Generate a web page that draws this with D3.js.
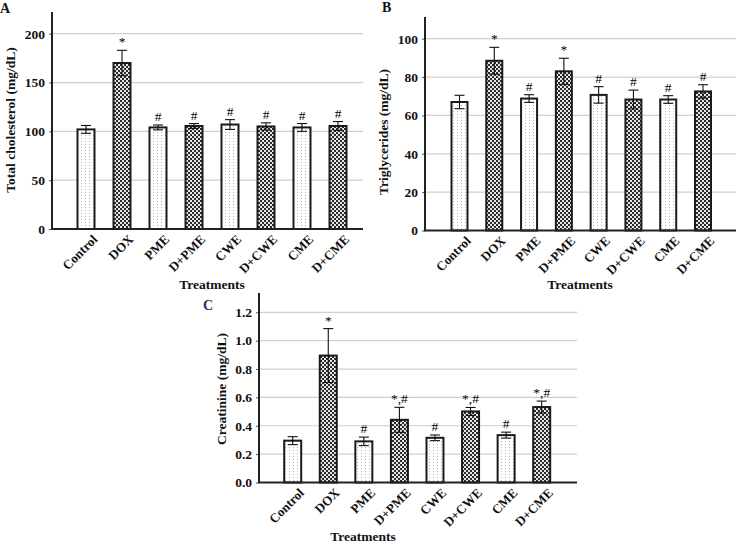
<!DOCTYPE html>
<html><head><meta charset="utf-8">
<script src="https://cdn.jsdelivr.net/npm/d3@7"></script>
<style>body{margin:0;background:#fff}svg{display:block}</style>
</head><body>
<svg id="chart" width="737" height="543"></svg>
<script>
const categories = ["Control","DOX","PME","D+PME","CWE","D+CWE","CME","D+CME"];
const darkBars = [false,true,false,true,false,true,false,true];

const cholesterolMean = [102,170,104,105.5,107,105,104,105.5];
const cholesterolErr  = [4,13,2.5,2.5,5,3.7,4,4.5];
const cholesterolSig  = ["","*","#","#","#","#","#","#"];
const cholesterolTicks = [0,50,100,150,200];

const triglycMean = [67,88.5,68.8,83,70.7,68.3,68.3,72.5];
const triglycErr  = [3.5,7,2,6.8,4.3,4.9,2,3.5];
const triglycSig  = ["","*","#","*","#","#","#","#"];
const triglycTicks = [0,20,40,60,80,100];

const creatMean = [0.295,0.895,0.29,0.442,0.315,0.501,0.334,0.532];
const creatErr  = [0.028,0.19,0.03,0.088,0.02,0.028,0.021,0.042];
const creatSig  = ["","*","#","*,#","#","*,#","#","*,#"];
const creatTicks = [0,0.2,0.4,0.6,0.8,1.0,1.2];

const svg = d3.select("#chart");
const serif = "'Liberation Serif','Times New Roman',serif";

// patterns
const defs = svg.append("defs");
const pl = defs.append("pattern").attr("id","light").attr("patternUnits","userSpaceOnUse")
  .attr("width",4).attr("height",3);
pl.append("rect").attr("width",4).attr("height",3).attr("fill","#fff");
pl.append("rect").attr("x",1).attr("y",0).attr("width",1).attr("height",1).attr("fill","#b8b8b8");
const pd = defs.append("pattern").attr("id","dark").attr("patternUnits","userSpaceOnUse")
  .attr("width",4).attr("height",4);
pd.append("rect").attr("width",4).attr("height",4).attr("fill","#e6e6e6");
pd.append("rect").attr("x",0).attr("y",0).attr("width",2).attr("height",2).attr("fill","#2a2a2a");
pd.append("rect").attr("x",2).attr("y",2).attr("width",2).attr("height",2).attr("fill","#2a2a2a");

function panel(cfg){
  const g = svg.append("g");
  const y = d3.scaleLinear().domain([0, cfg.refVal]).range([cfg.y0, cfg.yRef]);
  const x = d3.scalePoint().domain(categories).range([cfg.c0, cfg.c1]);
  const yTop = cfg.yTop;

  // gridlines
  g.append("g").selectAll("line").data(cfg.ticks.filter(t=>t>0)).join("line")
    .attr("x1",cfg.left).attr("x2",cfg.right)
    .attr("y1",d=>y(d)).attr("y2",d=>y(d))
    .attr("stroke","#cfcfcf").attr("stroke-width",1.2);

  // y axis via d3.axisLeft
  const ax = g.append("g").attr("transform",`translate(${cfg.left},0)`)
    .call(d3.axisLeft(y).tickValues(cfg.ticks).tickSize(3).tickPadding(4).tickFormat(cfg.fmt));
  ax.select(".domain").remove();
  ax.selectAll(".tick line").attr("stroke","#555");
  ax.selectAll("text").attr("font-family",serif).attr("font-weight","bold")
    .attr("font-size",13.5).attr("fill","#111");

  // bars
  const bw = cfg.bw;
  g.append("g").selectAll("rect").data(cfg.mean).join("rect")
    .attr("x",(d,i)=>x(categories[i])-bw/2).attr("width",bw)
    .attr("y",d=>y(d)).attr("height",d=>cfg.y0-y(d))
    .attr("fill",(d,i)=>darkBars[i]?"url(#dark)":"url(#light)")
    .attr("stroke","#1a1a1a").attr("stroke-width",2);

  // error bars
  const eg = g.append("g").attr("stroke","#111").attr("stroke-width",1.1);
  cfg.mean.forEach((m,i)=>{
    const cx = x(categories[i]), e = cfg.err[i];
    eg.append("line").attr("x1",cx).attr("x2",cx).attr("y1",y(m+e)).attr("y2",y(m-e));
    eg.append("line").attr("x1",cx-5).attr("x2",cx+5).attr("y1",y(m+e)).attr("y2",y(m+e));
    eg.append("line").attr("x1",cx-5).attr("x2",cx+5).attr("y1",y(m-e)).attr("y2",y(m-e));
  });

  // significance marks
  g.append("g").selectAll("text").data(cfg.sig).join("text")
    .attr("x",(d,i)=>x(categories[i])).attr("y",(d,i)=>y(cfg.mean[i]+cfg.err[i])-4)
    .attr("text-anchor","middle").attr("font-family",serif).attr("font-size",13.5)
    .attr("fill","#000").text(d=>d);

  // axes lines
  g.append("line").attr("x1",cfg.left).attr("x2",cfg.left).attr("y1",yTop).attr("y2",cfg.y0)
    .attr("stroke","#222").attr("stroke-width",2);
  g.append("line").attr("x1",cfg.left-1).attr("x2",cfg.right).attr("y1",cfg.y0).attr("y2",cfg.y0)
    .attr("stroke","#222").attr("stroke-width",2);

  // x tick labels
  g.append("g").selectAll("text").data(categories).join("text")
    .attr("transform",d=>`translate(${x(d)+9},${cfg.y0+8}) rotate(-45)`)
    .attr("text-anchor","end").attr("dy","0.35em")
    .attr("font-family",serif).attr("font-weight","bold").attr("font-size",13)
    .attr("fill","#111").text(d=>d);

  // axis titles
  g.append("text").attr("x",cfg.xtX).attr("y",cfg.xtY).attr("text-anchor","middle")
    .attr("font-family",serif).attr("font-weight","bold").attr("font-size",13.5)
    .attr("fill","#111").text("Treatments");
  g.append("text").attr("transform",`translate(${cfg.ytX},${cfg.ytY}) rotate(-90)`)
    .attr("text-anchor","middle").attr("font-family",serif).attr("font-weight","bold")
    .attr("font-size",13.5).attr("fill","#111").text(cfg.ylabel);

  // panel letter
  g.append("text").attr("x",cfg.lx).attr("y",cfg.ly).attr("font-family",serif)
    .attr("font-weight","bold").attr("font-size",14).attr("fill",cfg.lcol).text(cfg.letter);
}

panel({mean:cholesterolMean, err:cholesterolErr, sig:cholesterolSig, ticks:cholesterolTicks,
  fmt:d3.format("d"), refVal:200, y0:229, yRef:33.7, yTop:12, left:52, right:363,
  c0:86, c1:338, bw:17, xtX:212, xtY:289, ytX:15, ytY:120,
  ylabel:"Total cholesterol (mg/dL)", letter:"A", lx:0, ly:13, lcol:"#111"});

panel({mean:triglycMean, err:triglycErr, sig:triglycSig, ticks:triglycTicks,
  fmt:d3.format("d"), refVal:100, y0:230.5, yRef:38.7, yTop:17, left:425, right:736,
  c0:459.5, c1:703, bw:16, xtX:580, xtY:289, ytX:388, ytY:132,
  ylabel:"Triglycerides (mg/dL)", letter:"B", lx:382, ly:12, lcol:"#111"});

panel({mean:creatMean, err:creatErr, sig:creatSig, ticks:creatTicks,
  fmt:d3.format(".1f"), refVal:1.2, y0:482.5, yRef:312.3, yTop:293, left:259, right:577,
  c0:292.7, c1:541.7, bw:17, xtX:363, xtY:541, ytX:226, ytY:389,
  ylabel:"Creatinine (mg/dL)", letter:"C", lx:203, ly:310, lcol:"#1f2f5a"});
</script>
</body></html>
